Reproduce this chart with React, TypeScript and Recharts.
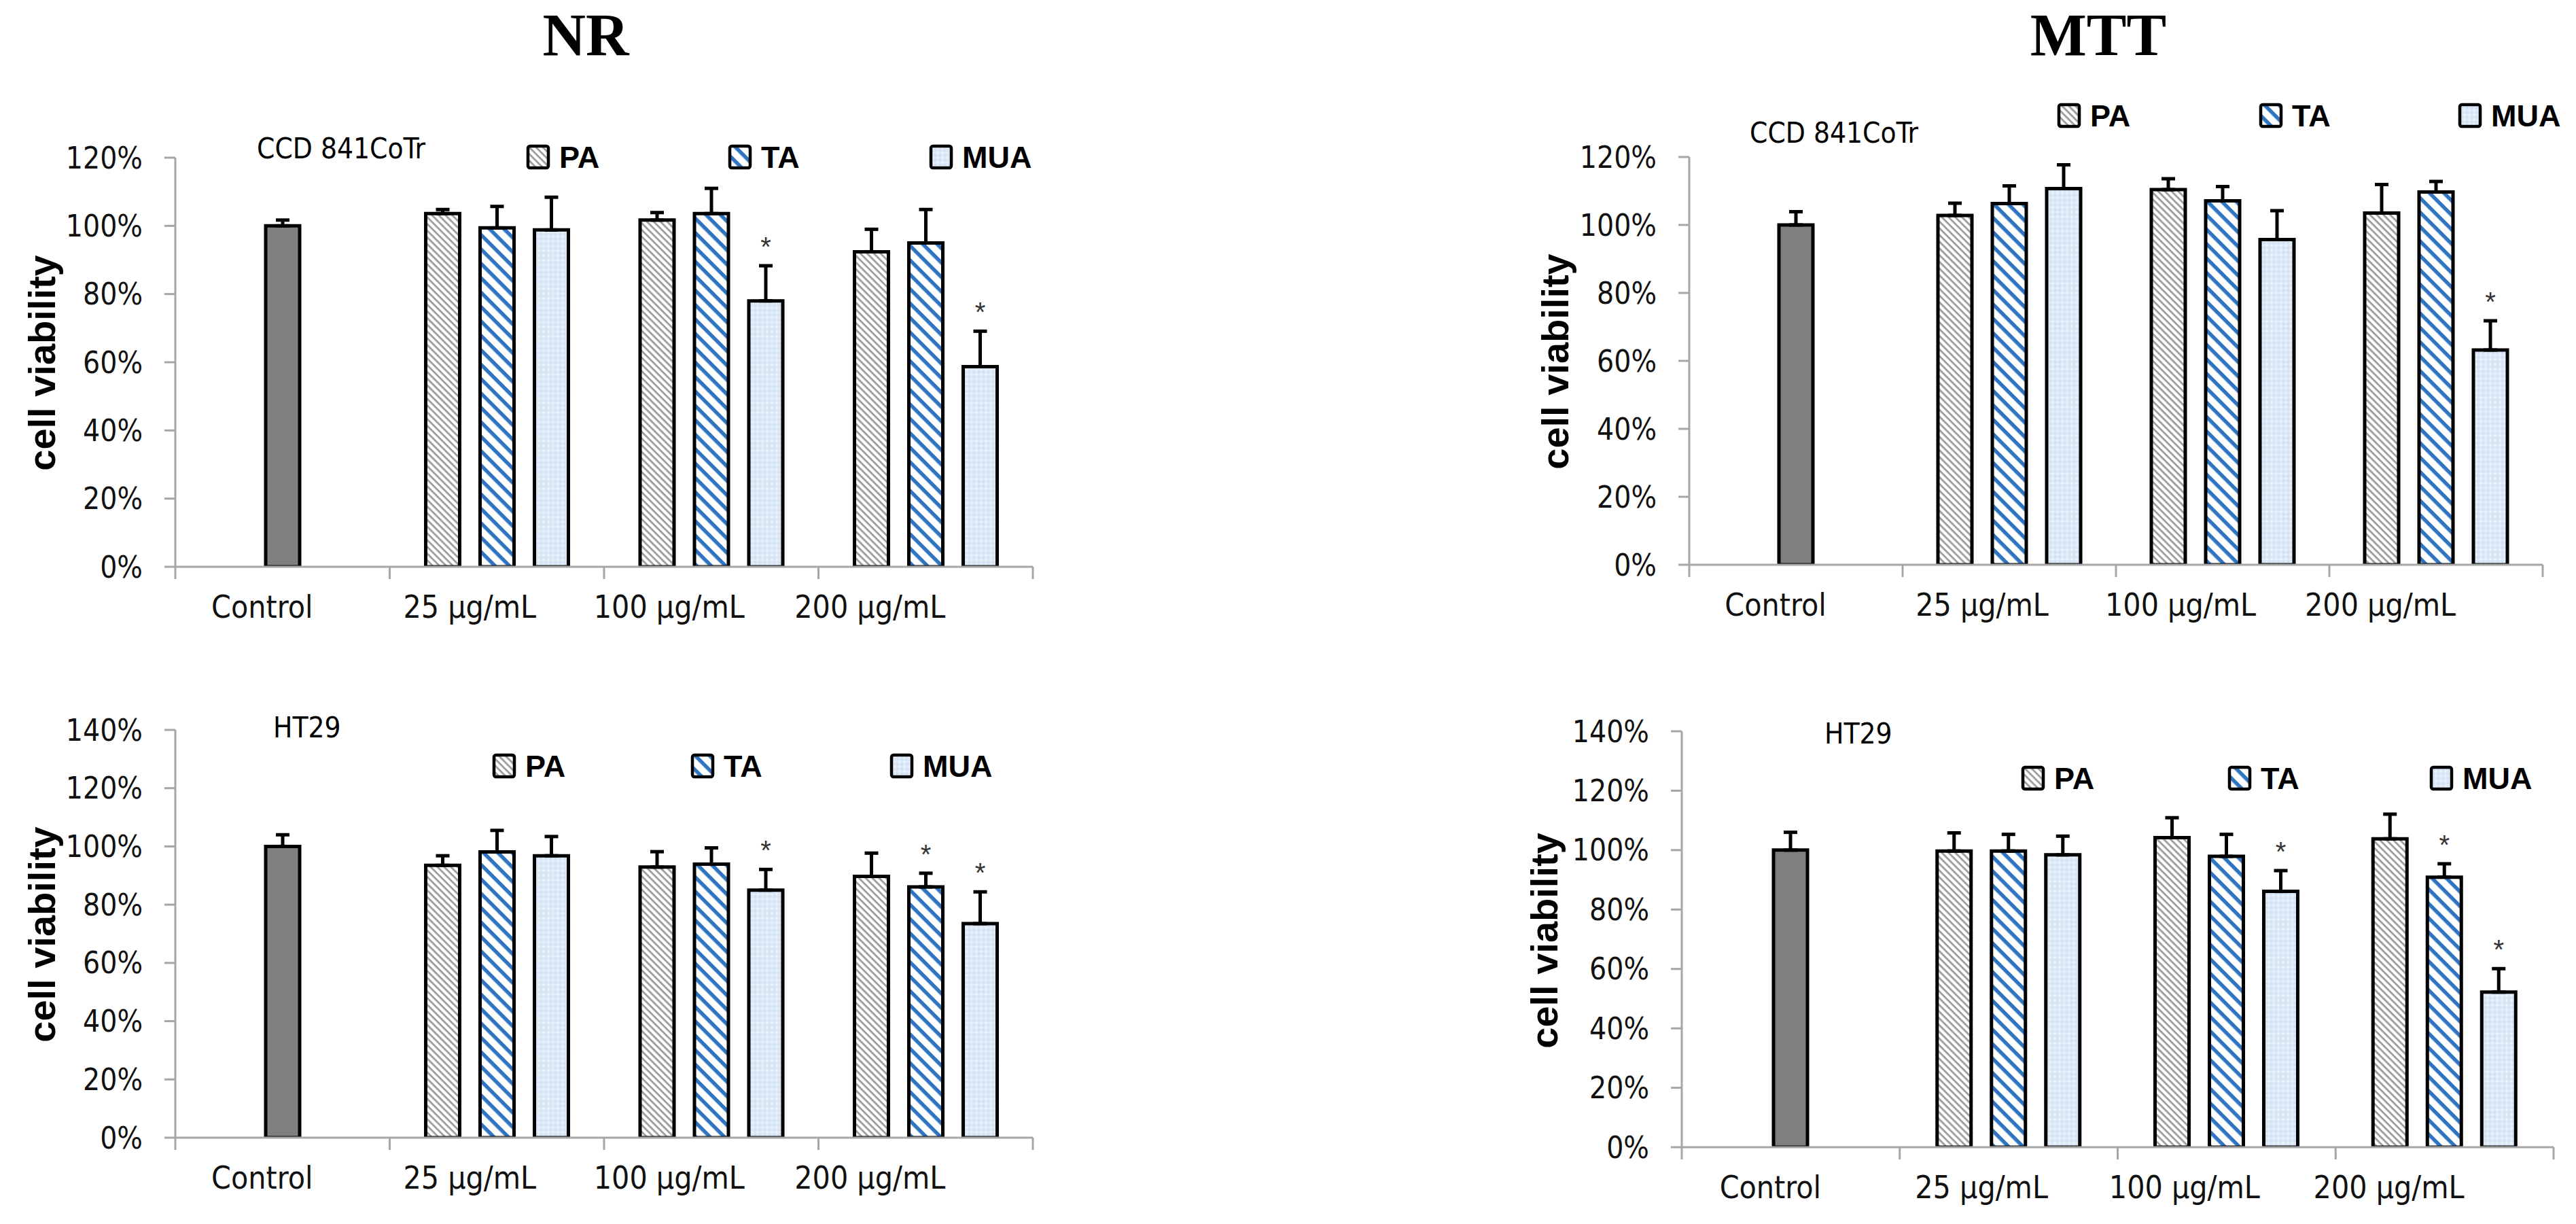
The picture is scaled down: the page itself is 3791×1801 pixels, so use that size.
import React from "react";
import { BarChart, Bar, XAxis, YAxis, ErrorBar, LabelList } from "recharts";

const CATEGORIES = ["Control", "25 µg/mL", "100 µg/mL", "200 µg/mL"];
const TICKS_120 = [0, 20, 40, 60, 80, 100, 120];
const TICKS_140 = [0, 20, 40, 60, 80, 100, 120, 140];
const LEGEND_NAMES = ["PA", "TA", "MUA"];

// NR – CCD 841CoTr
const NR_CCD_CONTROL = [100, 1.7];
const NR_CCD_PA = [103.6, 101.7, 92.4];
const NR_CCD_PA_ERR = [1.2, 2.2, 6.6];
const NR_CCD_TA = [99.4, 103.6, 95];
const NR_CCD_TA_ERR = [6.3, 7.4, 9.8];
const NR_CCD_MUA = [98.8, 78, 58.7];
const NR_CCD_MUA_ERR = [9.6, 10.3, 10.4];
const NR_CCD_TA_SIG = [0, 0, 0];
const NR_CCD_MUA_SIG = [0, 1, 1];

// MTT – CCD 841CoTr
const MTT_CCD_CONTROL = [100, 3.9];
const MTT_CCD_PA = [102.8, 110.4, 103.5];
const MTT_CCD_PA_ERR = [3.6, 3.2, 8.4];
const MTT_CCD_TA = [106.3, 107.1, 109.7];
const MTT_CCD_TA_ERR = [5.2, 4.2, 3.1];
const MTT_CCD_MUA = [110.7, 95.7, 63.2];
const MTT_CCD_MUA_ERR = [7, 8.5, 8.6];
const MTT_CCD_TA_SIG = [0, 0, 0];
const MTT_CCD_MUA_SIG = [0, 0, 1];

// NR – HT29
const NR_HT_CONTROL = [100, 4];
const NR_HT_PA = [93.5, 92.9, 89.7];
const NR_HT_PA_ERR = [3.3, 5.3, 8];
const NR_HT_TA = [98.1, 93.9, 86.1];
const NR_HT_TA_ERR = [7.4, 5.6, 4.7];
const NR_HT_MUA = [96.8, 85, 73.5];
const NR_HT_MUA_ERR = [6.6, 7.1, 10.9];
const NR_HT_TA_SIG = [0, 0, 1];
const NR_HT_MUA_SIG = [0, 1, 1];

// MTT – HT29
const MTT_HT_CONTROL = [100, 6];
const MTT_HT_PA = [99.7, 104.2, 103.8];
const MTT_HT_PA_ERR = [6.1, 6.7, 8.3];
const MTT_HT_TA = [99.7, 97.9, 90.9];
const MTT_HT_TA_ERR = [5.6, 7.4, 4.5];
const MTT_HT_MUA = [98.4, 86.1, 52.2];
const MTT_HT_MUA_ERR = [6.3, 7, 7.9];
const MTT_HT_TA_SIG = [0, 0, 1];
const MTT_HT_MUA_SIG = [0, 1, 1];

const AXIS = "#a6a6a6";
const NARROW = "'Liberation Sans Narrow', 'DejaVu Sans Condensed', Roboto, sans-serif";
const BOLD = "'Liberation Sans', Arial, sans-serif";
const SERIF = "'Liberation Serif', 'Times New Roman', serif";
const LABEL_SHIFT = [-30, -40, -62, -82];

function buildRows(control, pa, paErr, ta, taErr, taSig, mua, muaErr, muaSig) {
  return CATEGORIES.map((cat, i) => {
    if (i === 0) return { cat, control: control[0], controlErr: [0, control[1]] };
    const k = i - 1;
    return {
      cat,
      pa: pa[k],
      paErr: [0, paErr[k]],
      ta: ta[k],
      taErr: [0, taErr[k]],
      taSig: taSig[k],
      mua: mua[k],
      muaErr: [0, muaErr[k]],
      muaSig: muaSig[k],
    };
  });
}

const PANELS = [
  {
    id: "nr-ccd",
    plot: { l: 258, t: 232, r: 1520, b: 834 },
    max: 120,
    ticks: TICKS_120,
    rows: buildRows(NR_CCD_CONTROL, NR_CCD_PA, NR_CCD_PA_ERR, NR_CCD_TA, NR_CCD_TA_ERR, NR_CCD_TA_SIG, NR_CCD_MUA, NR_CCD_MUA_ERR, NR_CCD_MUA_SIG),
  },
  {
    id: "mtt-ccd",
    plot: { l: 2486, t: 231, r: 3742, b: 831 },
    max: 120,
    ticks: TICKS_120,
    rows: buildRows(MTT_CCD_CONTROL, MTT_CCD_PA, MTT_CCD_PA_ERR, MTT_CCD_TA, MTT_CCD_TA_ERR, MTT_CCD_TA_SIG, MTT_CCD_MUA, MTT_CCD_MUA_ERR, MTT_CCD_MUA_SIG),
  },
  {
    id: "nr-ht",
    plot: { l: 258, t: 1074, r: 1520, b: 1674 },
    max: 140,
    ticks: TICKS_140,
    rows: buildRows(NR_HT_CONTROL, NR_HT_PA, NR_HT_PA_ERR, NR_HT_TA, NR_HT_TA_ERR, NR_HT_TA_SIG, NR_HT_MUA, NR_HT_MUA_ERR, NR_HT_MUA_SIG),
  },
  {
    id: "mtt-ht",
    plot: { l: 2475, t: 1076, r: 3758, b: 1688 },
    max: 140,
    ticks: TICKS_140,
    rows: buildRows(MTT_HT_CONTROL, MTT_HT_PA, MTT_HT_PA_ERR, MTT_HT_TA, MTT_HT_TA_ERR, MTT_HT_TA_SIG, MTT_HT_MUA, MTT_HT_MUA_ERR, MTT_HT_MUA_SIG),
  },
];

// overlay text positions (page px)
const TITLES = [
  { text: "NR", x: 862, y: 81 },
  { text: "MTT", x: 3088, y: 81 },
];
const CELL_LABELS = [
  { text: "CCD 841CoTr", x: 378, y: 233 },
  { text: "CCD 841CoTr", x: 2575, y: 210 },
  { text: "HT29", x: 402, y: 1085 },
  { text: "HT29", x: 2685, y: 1094 },
];
const Y_LABELS = [
  { x: 61, y: 534 },
  { x: 2288, y: 532 },
  { x: 61, y: 1375 },
  { x: 2272, y: 1384 },
];
const LEGENDS = [
  { y: 231, xs: [777, 1074, 1370] },
  { y: 170, xs: [3030, 3327, 3620] },
  { y: 1127, xs: [727, 1019, 1312] },
  { y: 1145, xs: [2977, 3281, 3578] },
];
const FILLS = ["url(#patPA)", "url(#patTA)", "url(#patMUA)"];

function CategoryTick(props) {
  const { x, y, payload, index, half, count } = props;
  return (
    <g>
      <line x1={x - half} x2={x - half} y1={y} y2={y + 18} stroke={AXIS} strokeWidth={3} />
      {index === count - 1 && (
        <line x1={x + half} x2={x + half} y1={y} y2={y + 18} stroke={AXIS} strokeWidth={3} />
      )}
      <text
        x={x + LABEL_SHIFT[index]}
        y={y + 59}
        textAnchor="middle"
        dominantBaseline="central"
        fontFamily={NARROW}
        fontSize={46}
        fill="#111"
      >
        {payload.value}
      </text>
    </g>
  );
}

// value passed in is err / mean, so the error-bar top follows the bar's own scale
function StarLabel(props) {
  const ratio = props.value;
  if (ratio == null || Number.isNaN(+ratio)) return null;
  const vb = props.viewBox || props;
  const h = Math.abs(vb.height);
  const top = Math.min(vb.y, vb.y + vb.height);
  const errTop = top - ratio * h;
  return (
    <text
      x={vb.x + vb.width / 2}
      y={errTop - 14}
      textAnchor="middle"
      fontFamily={BOLD}
      fontSize={40}
      fill="#333"
    >
      *
    </text>
  );
}

function Panel({ cfg }) {
  const { plot, max, ticks, rows } = cfg;
  const padL = 250;
  const padT = 60;
  const padR = 40;
  const padB = 130;
  const w = plot.r - plot.l + padL + padR;
  const h = plot.b - plot.t + padT + padB;
  const half = (plot.r - plot.l) / CATEGORIES.length / 2;
  const eb = { direction: "y", width: 10, stroke: "#000", strokeWidth: 5, isAnimationActive: false };
  return (
    <div style={{ position: "absolute", left: plot.l - padL, top: plot.t - padT }}>
      <BarChart
        width={w}
        height={h}
        data={rows}
        margin={{ top: padT, right: padR, left: 0, bottom: 0 }}
        barSize={50}
        barGap={30}
      >
        <XAxis
          dataKey="cat"
          height={padB}
          interval={0}
          tickSize={0}
          tickMargin={0}
          tickLine={false}
          axisLine={{ stroke: AXIS, strokeWidth: 3 }}
          tick={(p) => <CategoryTick {...p} half={half} count={CATEGORIES.length} />}
        />
        <YAxis
          type="number"
          width={padL}
          domain={[0, max]}
          ticks={ticks}
          allowDataOverflow
          interval={0}
          tickSize={16}
          tickMargin={32}
          tickLine={{ stroke: AXIS, strokeWidth: 3 }}
          axisLine={{ stroke: AXIS, strokeWidth: 3 }}
          tickFormatter={(v) => `${v}%`}
          tick={{ fill: "#111", fontSize: 44, fontFamily: NARROW }}
        />
        <Bar dataKey="pa" stackId="a" fill="url(#patPA)" stroke="#000" strokeWidth={5} isAnimationActive={false}>
          <ErrorBar dataKey="paErr" {...eb} />
        </Bar>
        <Bar dataKey="ta" stackId="b" fill="url(#patTA)" stroke="#000" strokeWidth={5} isAnimationActive={false}>
          <ErrorBar dataKey="taErr" {...eb} />
          <LabelList dataKey={(d) => (d.taSig ? d.taErr[1] / d.ta : null)} content={StarLabel} />
        </Bar>
        <Bar dataKey="control" stackId="b" fill="#7f7f7f" stroke="#000" strokeWidth={5} isAnimationActive={false}>
          <ErrorBar dataKey="controlErr" {...eb} />
        </Bar>
        <Bar dataKey="mua" stackId="c" fill="url(#patMUA)" stroke="#000" strokeWidth={5} isAnimationActive={false}>
          <ErrorBar dataKey="muaErr" {...eb} />
          <LabelList dataKey={(d) => (d.muaSig ? d.muaErr[1] / d.mua : null)} content={StarLabel} />
        </Bar>
      </BarChart>
    </div>
  );
}

export default function App() {
  return (
    <div style={{ position: "absolute", left: 0, top: 0, width: 3791, height: 1801, background: "#fff" }}>
      <svg width={0} height={0} style={{ position: "absolute" }}>
        <defs>
          <pattern id="patPA" patternUnits="userSpaceOnUse" width="7" height="7" patternTransform="rotate(45)">
            <rect width="7" height="7" fill="#fff" />
            <rect width="7" height="2.8" fill="#9c9c9c" />
          </pattern>
          <pattern id="patTA" patternUnits="userSpaceOnUse" width="15" height="15" patternTransform="rotate(45)">
            <rect width="15" height="15" fill="#fff" />
            <rect width="15" height="5.5" fill="#2e74c0" />
          </pattern>
          <pattern id="patMUA" patternUnits="userSpaceOnUse" width="7" height="7">
            <rect width="7" height="7" fill="#dde9f7" />
            <rect x="0" y="0" width="2" height="2" fill="#f5f9fd" />
            <rect x="3.5" y="3.5" width="2" height="2" fill="#c4d9f0" />
          </pattern>
        </defs>
      </svg>
      {PANELS.map((p) => (
        <Panel key={p.id} cfg={p} />
      ))}
      <svg
        width={3791}
        height={1801}
        style={{ position: "absolute", left: 0, top: 0, pointerEvents: "none" }}
      >
        {TITLES.map((t) => (
          <text key={t.text} x={t.x} y={t.y} textAnchor="middle" fontFamily={SERIF} fontWeight="bold" fontSize={88} fill="#000">
            {t.text}
          </text>
        ))}
        {CELL_LABELS.map((t, i) => (
          <text key={i} x={t.x} y={t.y} fontFamily={NARROW} fontSize={42} fill="#000">
            {t.text}
          </text>
        ))}
        {Y_LABELS.map((t, i) => (
          <text
            key={i}
            x={t.x}
            y={t.y}
            transform={`rotate(-90 ${t.x} ${t.y})`}
            textAnchor="middle"
            dominantBaseline="central"
            fontFamily={BOLD}
            fontWeight="bold"
            fontSize={56}
            fill="#000"
          >
            cell viability
          </text>
        ))}
        {LEGENDS.map((lg, i) => (
          <g key={i}>
            {LEGEND_NAMES.map((name, j) => (
              <g key={name}>
                <rect
                  x={lg.xs[j]}
                  y={lg.y - 16}
                  width={30}
                  height={32}
                  rx={3}
                  fill={FILLS[j]}
                  stroke="#000"
                  strokeWidth={4.5}
                />
                <text x={lg.xs[j] + 46} y={lg.y + 16} fontFamily={BOLD} fontWeight="bold" fontSize={45} fill="#000">
                  {name}
                </text>
              </g>
            ))}
          </g>
        ))}
      </svg>
    </div>
  );
}
